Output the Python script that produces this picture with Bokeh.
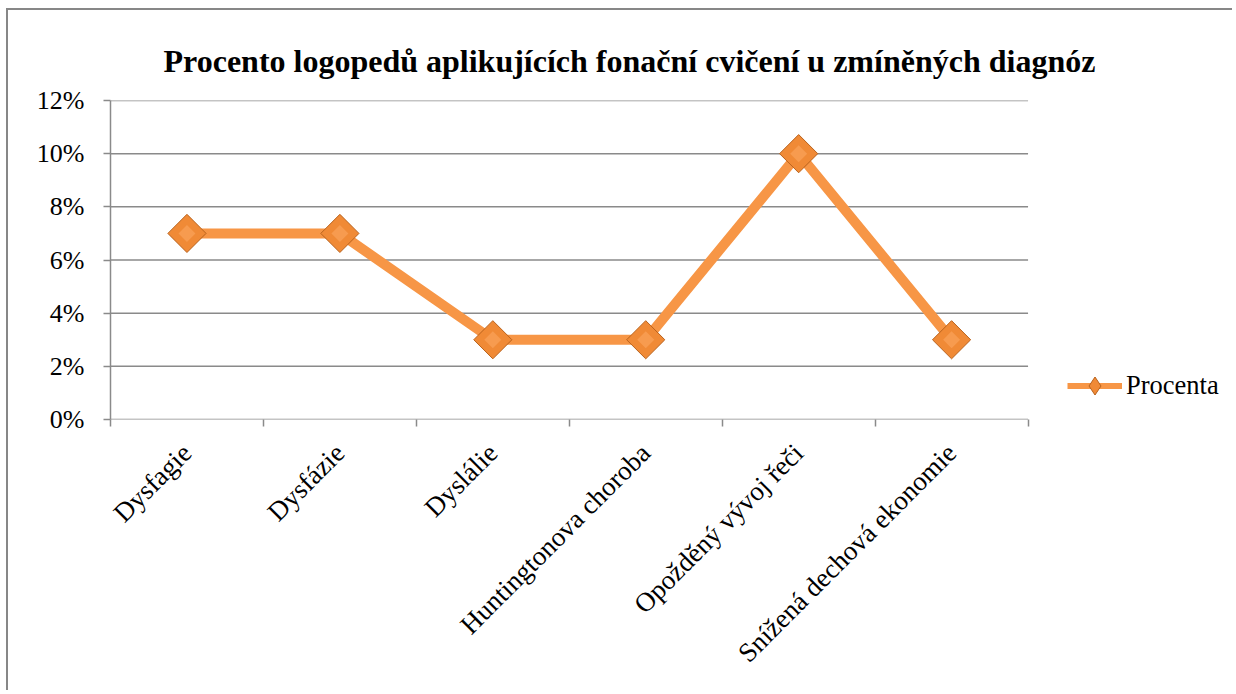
import math
from bokeh.plotting import figure
from bokeh.models import (Range1d, FixedTicker, NumeralTickFormatter, Title,
                          Legend, LegendItem, ColumnDataSource)
from bokeh.embed import file_html
from bokeh.resources import INLINE

# ---- data ----
categories = ["Dysfagie", "Dysfázie", "Dyslálie", "Huntingtonova choroba",
              "Opožděný vývoj řeči", "Snížená dechová ekonomie"]
procenta = [0.07, 0.07, 0.03, 0.03, 0.10, 0.03]
y_ticks = [0.0, 0.02, 0.04, 0.06, 0.08, 0.10, 0.12]
title_text = "Procento logopedů aplikujících fonační cvičení u zmíněných diagnóz"
series_name = "Procenta"

FONT = "Liberation Serif"
GRID = "#8a8a8a"
ORANGE = "#F79646"

n = len(categories)
xs = [i + 0.5 for i in range(n)]
src = ColumnDataSource(dict(x=xs, y=procenta, cat=categories))

# the frame also hosts the legend area on the right (plot area ends at x=n)
X_END = 7.35

W, H = 1226, 682
p = figure(width=W, height=H, output_backend="svg", toolbar_location=None,
           x_range=Range1d(0, X_END), y_range=Range1d(0, 0.12),
           min_border_left=102, min_border_right=0, min_border_top=90,
           min_border_bottom=273,
           styles={"margin-left": "6px", "margin-top": "8px",
                   "border-left": "2px solid #878787",
                   "border-top": "2px solid #878787"})
p.outline_line_color = None
p.background_fill_color = "white"
p.border_fill_color = "white"

# title
t = Title(text=title_text, align="left", vertical_align="top", text_font=FONT,
          text_font_size="32px", text_font_style="bold", text_color="black",
          text_line_height=1.3, offset=53, standoff=40)
p.add_layout(t, "above")

# horizontal gridlines limited to the category area
p.segment(x0=[0] * len(y_ticks), x1=[n] * len(y_ticks), y0=y_ticks, y1=y_ticks,
          line_color=GRID, line_width=1.5)

# y axis
p.yaxis.ticker = FixedTicker(ticks=y_ticks)
p.yaxis.formatter = NumeralTickFormatter(format="0%")
p.yaxis.axis_line_color = GRID
p.yaxis.axis_line_width = 1.5
p.yaxis.major_tick_line_color = GRID
p.yaxis.major_tick_line_width = 1.5
p.yaxis.major_tick_in = 0
p.yaxis.major_tick_out = 7
p.yaxis.minor_tick_line_color = None
p.yaxis.major_label_text_font = FONT
p.yaxis.major_label_text_font_size = "26px"
p.yaxis.major_label_text_color = "black"
p.yaxis.major_label_standoff = 19

# x axis: labels at centres, ticks at category boundaries
p.xaxis.ticker = FixedTicker(ticks=xs, minor_ticks=list(range(n + 1)))
p.xaxis.major_label_overrides = {x: c for x, c in zip(xs, categories)}
p.xaxis.axis_line_color = None
p.xaxis.major_tick_line_color = None
p.xaxis.minor_tick_line_color = GRID
p.xaxis.minor_tick_line_width = 1.5
p.xaxis.minor_tick_in = 0
p.xaxis.minor_tick_out = 7
p.xaxis.major_label_orientation = math.pi / 4
p.xaxis.major_label_text_font = FONT
p.xaxis.major_label_text_font_size = "27px"
p.xaxis.major_label_text_color = "black"
p.xaxis.major_label_standoff = 22

p.xgrid.visible = False
p.ygrid.visible = False

# series
ln = p.line("x", "y", source=src, line_color=ORANGE, line_width=10,
            line_join="round")
sc = p.scatter("x", "y", source=src, marker="square", angle=math.pi / 4,
               size=27, fill_color="#F08A36", line_color="#B9621C",
               line_width=1)
p.scatter("x", "y", source=src, marker="square", angle=math.pi / 4,
          size=12, fill_color="#FBA660", line_color=None, fill_alpha=0.6)

# legend-only glyphs (no visible data)
nan = float("nan")
lg_line = p.line(x=[nan], y=[nan], line_color=ORANGE, line_width=6)
lg_mark = p.scatter(x=[nan], y=[nan], marker="diamond", size=18,
                    fill_color="#F08A36", line_color="#B9621C", line_width=1)

legend = Legend(items=[LegendItem(label=series_name, renderers=[lg_line, lg_mark])],
                location=(957, 11), border_line_color=None,
                background_fill_alpha=0, label_text_font=FONT,
                label_text_font_size="26.5px", label_text_color="black",
                glyph_width=55, glyph_height=45, padding=0, margin=0,
                label_standoff=4)
p.add_layout(legend, "center")

open("out.html", "w").write(file_html(p, INLINE))
